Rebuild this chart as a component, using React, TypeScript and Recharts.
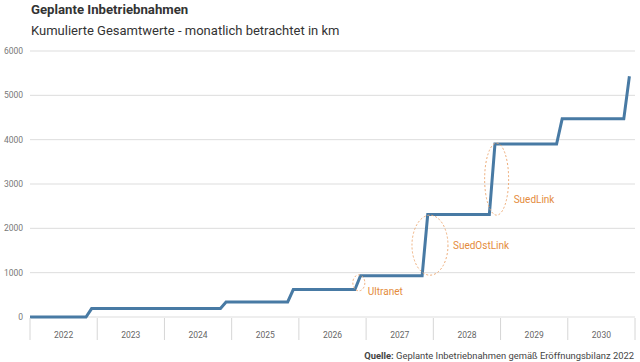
import React from 'react';
import { LineChart, Line, XAxis, YAxis, CartesianGrid, ReferenceDot } from 'recharts';

// corners of the step line: month index (0 = Jan 2022) and cumulative km
const vertexMonths = [0, 10, 11, 34, 35, 46, 47, 58, 59, 70, 71, 82, 83, 94, 95, 106, 107];
const vertexKm = [0, 0, 190, 190, 340, 340, 620, 620, 930, 930, 2310, 2310, 3900, 3900, 4470, 4470, 5430];

const yearLabels = ['2022', '2023', '2024', '2025', '2026', '2027', '2028', '2029', '2030'];
const yTicks = [0, 1000, 2000, 3000, 4000, 5000, 6000];

const annotationNames = ['Ultranet', 'SuedOstLink', 'SuedLink'];
const annotationMonths = [58.7, 71.4, 83.3];
const annotationKm = [770, 1620, 3110];

// ellipse size and label offset per annotation (px)
const annotationStyle = [
  { rx: 6, ry: 8, dx: 3, dy: 9 },
  { rx: 18, ry: 30, dx: 5, dy: 1 },
  { rx: 12, ry: 36, dx: 5, dy: 21 },
];

const data = vertexMonths.map((m, i) => ({ month: m, km: vertexKm[i] }));
const yearCenters = yearLabels.map((_, i) => i * 12 + 6);
const yearBounds = [...yearLabels.map((_, i) => i * 12), yearLabels.length * 12];

const BLUE = '#487aa4';
const ORANGE = '#e48b3c';
const FONT = 'Roboto, sans-serif';

const App: React.FC = () => {
  return (
    <div style={{ position: 'absolute', left: 0, top: 0, width: 640, height: 362, background: '#fff', fontFamily: FONT }}>
      <div style={{ position: 'absolute', left: 31, top: 2, fontSize: 13.2, lineHeight: '16px', fontWeight: 700, color: '#333' }}>
        Geplante Inbetriebnahmen
      </div>
      <div style={{ position: 'absolute', left: 31, top: 23, fontSize: 13, lineHeight: '15px', color: '#333' }}>
        Kumulierte Gesamtwerte - monatlich betrachtet in km
      </div>

      <div style={{ position: 'absolute', left: 0, top: 0 }}>
        <LineChart width={640} height={362} data={data} margin={{ top: 51, right: 5, bottom: 43, left: 0 }}>
          <CartesianGrid horizontal vertical={false} stroke="#dddddd" />
          <XAxis
            dataKey="month"
            type="number"
            domain={[0, 108]}
            ticks={yearCenters}
            interval={0}
            height={1}
            axisLine={false}
            tickLine={false}
            tickSize={0}
            tickMargin={15}
            tickFormatter={(v: number) => yearLabels[(v - 6) / 12]}
            tick={{ fontSize: 8.5, fill: '#666', fontFamily: FONT }}
          />
          <XAxis
            xAxisId="sep"
            dataKey="month"
            type="number"
            domain={[0, 108]}
            ticks={yearBounds}
            interval={0}
            height={1}
            axisLine={false}
            tickSize={22}
            tickLine={{ stroke: '#d6d6d6' }}
            tickFormatter={() => ''}
          />
          <YAxis
            type="number"
            domain={[0, 6000]}
            ticks={yTicks}
            interval={0}
            width={30}
            axisLine={false}
            tickLine={false}
            tickSize={0}
            tickMargin={7}
            tick={{ fontSize: 8.5, fill: '#777', fontFamily: FONT }}
          />
          <Line
            type="linear"
            dataKey="km"
            stroke={BLUE}
            strokeWidth={3}
            dot={false}
            isAnimationActive={false}
          />
          {annotationNames.map((name, i) => (
            <ReferenceDot
              key={name}
              x={annotationMonths[i]}
              y={annotationKm[i]}
              shape={(p: any) => {
                const s = annotationStyle[i];
                return (
                  <g>
                    <ellipse cx={p.cx} cy={p.cy} rx={s.rx} ry={s.ry} fill="none" stroke="#eeac78" strokeWidth={1} strokeDasharray="2 2" />
                    <text x={p.cx + s.rx + s.dx} y={p.cy + s.dy} dominantBaseline="middle" fontSize={10} fill={ORANGE} fontFamily={FONT}>
                      {name}
                    </text>
                  </g>
                );
              }}
            />
          ))}
        </LineChart>
      </div>

      <div style={{ position: 'absolute', right: 6, top: 350, fontSize: 9.4, lineHeight: '12px', color: '#444', whiteSpace: 'nowrap' }}>
        <b>Quelle:</b> Geplante Inbetriebnahmen gemäß Eröffnungsbilanz 2022
      </div>
    </div>
  );
};

export default App;
